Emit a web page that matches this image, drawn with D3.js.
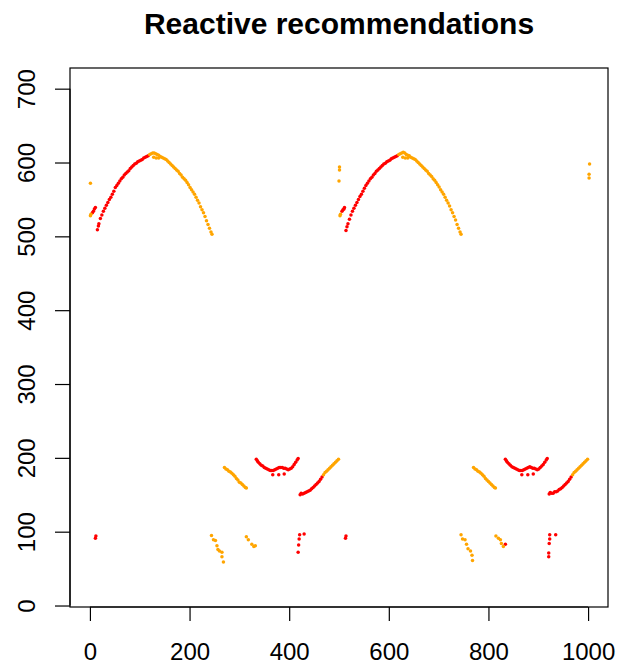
<!DOCTYPE html>
<html>
<head>
<meta charset="utf-8">
<script src="https://cdn.jsdelivr.net/npm/d3@7"></script>
<style>
  html, body { margin: 0; padding: 0; background: #fff; }
  svg { display: block; }
  text { font-family: "Liberation Sans", Arial, sans-serif; fill: #000; }
</style>
</head>
<body>
<script>
// Chart title and axis ticks
const chartTitle = "Reactive recommendations";
const xTicks = [0, 200, 400, 600, 800, 1000];
const yTicks = [0, 100, 200, 300, 400, 500, 600, 700];

// Recommendations flagged red, as [time, value]
const redPoints = [
  [5,532],[7,534],[9,537],[11,539],[11,91],[12,94],
  [15,509],[17,514],[18,517],[21,524],[24,529],[27,534],[30,538],[33,542],[36,546],[39,550],
  [42,553],[45,557],[48,561],[51,566],[54,569],[57,572],[60,575],[63,578],[66,580],[69,583],
  [72,585],[75,587],[78,589],[81,592],[84,594],[87,596],[90,598],[93,599],[96,601],[99,602],
  [102,603],[105,604],[108,606],[111,607],[114,608],[117,609],
  [334,198],[336,196],[338,194],[341,192],[344,190],[347,189],[350,187],[353,186],[356,185],
  [359,184],[362,183],[365,183],[368,183],[371,184],[374,185],[377,186],[380,187],[383,187],
  [386,187],[389,186],[392,186],[395,185],[398,184],[401,185],[404,186],[407,188],[410,191],
  [413,194],[416,197],[418,199],
  [367,177],[379,177],[390,178],
  [421,96],[430,97],[420,90],[419,82],[418,72],
  [422,150],[424,152],[427,151],[430,152],[433,153],[436,154],[439,155],[442,156],[445,158],
  [448,160],[451,162],[454,164],[457,166],[460,168],[463,171],[466,174],
  [506,534],[508,536],[510,537],[511,539],[513,91],[514,94],
  [514,508],[516,513],[518,517],[521,523],[524,529],[527,534],[530,538],[533,542],[536,546],
  [539,550],[542,554],[545,557],[548,561],[551,565],[554,569],[557,572],[560,575],[563,578],
  [566,580],[569,583],[572,585],[575,588],[578,590],[581,592],[584,594],[587,596],[590,598],
  [593,599],[596,601],[599,602],[602,603],[605,605],[608,606],[611,607],[614,608],[617,609],
  [834,198],[836,196],[838,194],[841,192],[844,190],[847,188],[850,187],[853,186],[856,185],
  [859,184],[862,183],[865,183],[868,183],[871,184],[874,185],[877,186],[880,187],[883,188],
  [886,187],[889,186],[892,186],[895,185],[898,184],[901,185],[904,187],[907,189],[910,191],
  [913,194],[916,197],[918,199],
  [867,177],[879,177],[890,178],
  [834,83],
  [923,96],[935,96],[923,90],[922,84],[921,71],[921,66],
  [922,151],[924,153],[927,152],[930,152],[933,154],[936,154],[939,155],[942,157],[945,158],
  [948,160],[951,162],[954,164],[957,166],[960,168],[963,171],[966,174]
];

// Recommendations flagged orange, as [time, value]
const orangePoints = [
  [1,572],[1,528],[2,530],
  [120,611],[123,612],[126,613],[129,613],[132,612],[135,611],[138,610],[141,608],[144,607],
  [147,606],[150,605],[153,604],[156,602],[159,600],[162,598],[165,596],[168,594],[171,592],
  [174,590],[177,588],[180,585],[183,583],[186,580],[189,578],[192,576],[195,573],[198,570],
  [201,566],[204,563],[207,560],[210,557],[213,553],[216,549],[219,545],[222,540],[225,536],
  [228,532],[231,527],[234,521],[237,516],[240,511],[243,506],[245,503],
  [128,607],[133,606],[138,606],
  [270,187],[273,185],[276,184],[279,182],[282,181],[285,179],[288,177],[291,175],[294,172],
  [297,170],[300,167],[303,166],[306,164],[309,162],[312,160],[314,159],
  [244,95],[248,89],[252,88],[255,81],[257,76],[260,74],[265,72],[265,66],[268,59],
  [314,93],[318,89],[325,83],[329,80],[332,81],
  [469,177],[472,180],[475,182],[478,184],[481,186],[484,188],[487,190],[490,192],[493,194],
  [496,196],[499,198],
  [501,594],[501,590],[500,575],[502,528],[503,530],
  [620,611],[623,612],[626,613],[629,614],[632,613],[635,611],[638,610],[641,609],[644,607],
  [647,606],[650,605],[653,604],[656,602],[659,600],[662,598],[665,596],[668,594],[671,592],
  [674,590],[677,588],[680,585],[683,583],[686,581],[689,578],[692,576],[695,573],[698,570],
  [701,567],[704,563],[707,560],[710,557],[713,553],[716,549],[719,545],[722,541],[725,536],
  [728,532],[731,527],[734,522],[737,516],[740,511],[743,506],[745,503],
  [628,607],[633,606],[638,606],
  [770,187],[773,185],[776,184],[779,182],[782,181],[785,179],[788,177],[791,175],[794,172],
  [797,170],[800,168],[803,166],[806,164],[809,162],[812,160],[814,159],
  [745,96],[748,90],[753,89],[756,83],[759,77],[764,74],[767,68],[768,61],
  [815,94],[820,91],[824,89],[826,84],[830,80],
  [969,177],[972,180],[975,182],[978,184],[981,186],[984,188],[987,190],[990,192],[993,194],
  [996,196],[999,198],
  [1003,598],[1002,584],[1002,579]
];

const width = 621, height = 666;
const box = { left: 70, right: 608, top: 68, bottom: 607 };
const dotRadius = 1.75;

const svg = d3.select("body").append("svg")
  .attr("width", width)
  .attr("height", height);

const x = d3.scaleLinear().domain([-40, 1040]).range([box.left, box.right]);
const y = d3.scaleLinear().domain([-2, 728]).range([box.bottom, box.top]);

// Points
const dots = svg.append("g");
dots.selectAll("circle.red")
  .data(redPoints)
  .join("circle")
  .attr("class", "red")
  .attr("cx", d => x(d[0]))
  .attr("cy", d => y(d[1]))
  .attr("r", dotRadius)
  .attr("fill", "#FF0000");
dots.selectAll("circle.orange")
  .data(orangePoints)
  .join("circle")
  .attr("class", "orange")
  .attr("cx", d => x(d[0]))
  .attr("cy", d => y(d[1]))
  .attr("r", dotRadius)
  .attr("fill", "#FFA500");

// Plot frame
svg.append("rect")
  .attr("x", box.left)
  .attr("y", box.top)
  .attr("width", box.right - box.left)
  .attr("height", box.bottom - box.top)
  .attr("fill", "none")
  .attr("stroke", "#000")
  .attr("stroke-width", 1.2);

// Bottom axis
const xAxis = svg.append("g")
  .attr("transform", `translate(0,${box.bottom})`)
  .call(d3.axisBottom(x).tickValues(xTicks).tickSize(14).tickPadding(0).tickFormat(d3.format("d")));
xAxis.select(".domain").attr("d", `M${x(xTicks[0])},0H${x(xTicks[xTicks.length - 1])}`)
  .attr("stroke", "#000").attr("stroke-width", 1.2);
xAxis.selectAll(".tick line").attr("stroke", "#000").attr("stroke-width", 1.2);
xAxis.selectAll(".tick text")
  .attr("y", 53)
  .attr("dy", null)
  .style("font-size", "24px")
  .style("font-family", "'Liberation Sans', Arial, sans-serif");

// Left axis
const yAxis = svg.append("g")
  .attr("transform", `translate(${box.left},0)`)
  .call(d3.axisLeft(y).tickValues(yTicks).tickSize(15).tickPadding(0).tickFormat(d3.format("d")));
yAxis.select(".domain").attr("d", `M0,${y(yTicks[0])}V${y(yTicks[yTicks.length - 1])}`)
  .attr("stroke", "#000").attr("stroke-width", 1.2);
yAxis.selectAll(".tick line").attr("stroke", "#000").attr("stroke-width", 1.2);
yAxis.selectAll(".tick text")
  .attr("x", null)
  .attr("dy", null)
  .attr("transform", "translate(-35.5,0) rotate(-90)")
  .attr("text-anchor", "middle")
  .style("font-size", "24px")
  .style("font-family", "'Liberation Sans', Arial, sans-serif");

// Title
svg.append("text")
  .attr("x", (box.left + box.right) / 2)
  .attr("y", 34)
  .attr("text-anchor", "middle")
  .style("font-size", "30px")
  .style("font-weight", "bold")
  .text(chartTitle);
</script>
</body>
</html>
